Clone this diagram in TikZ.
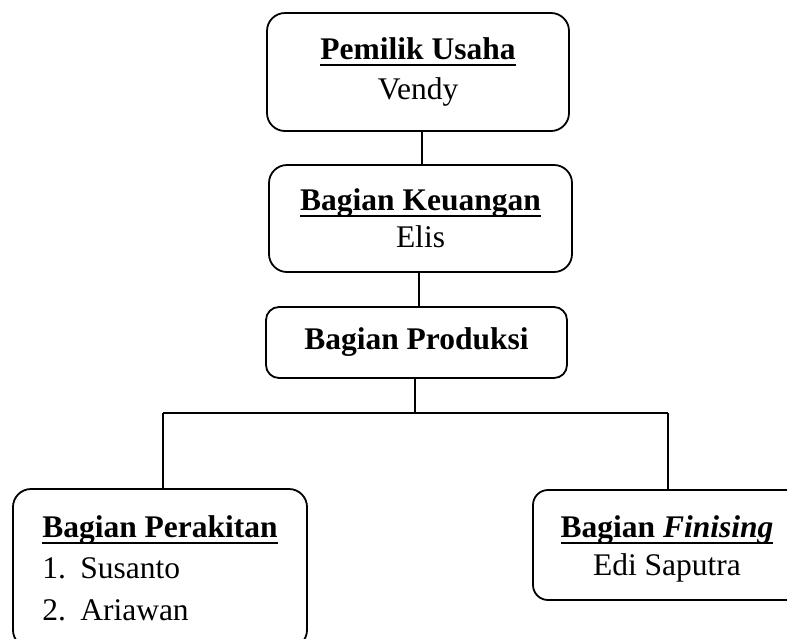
\documentclass[tikz,border=0pt]{standalone}
\usepackage{fontspec}
\setmainfont{Liberation Serif}
\newsavebox\ulbox
\newcommand\ulx[1]{\sbox\ulbox{#1}\rlap{\rule[-6.5pt]{\wd\ulbox}{2.4pt}}\usebox\ulbox}
\tikzset{
  orgbox/.style={draw, line width=1.8pt, rounded corners=18pt, inner sep=0pt,
    font=\fontsize{31.5}{40}\selectfont},
  orgtext/.style={inner sep=0pt, font=\fontsize{31.5}{40}\selectfont},
  link/.style={line width=1.8pt}
}
\begin{document}
\begin{tikzpicture}[x=1pt,y=-1pt]
\useasboundingbox (0,0) rectangle (787,638);
\clip (0,0) rectangle (787,638);
\node[orgbox, minimum width=302pt, minimum height=118pt, align=center] (b1) at (418,72)
  {\bfseries\ulx{Pemilik Usaha}\\Vendy};
\node[orgbox, minimum width=303pt, minimum height=107pt, align=center] (b2) at (420.5,218.5)
  {\bfseries\ulx{Bagian Keuangan}\\[-3pt]\mdseries Elis};
\node[orgbox, rounded corners=13pt, minimum width=301pt, minimum height=71pt] (b3) at (416.5,342.5)
  {\bfseries Bagian Produksi};
\node[orgbox, minimum width=294pt, minimum height=159pt, align=left] (b4) at (160,568.5)
  {\bfseries\ulx{Bagian Perakitan}\\[1pt]\makebox[38pt][l]{1.}Susanto\\[2pt]\makebox[38pt][l]{2.}Ariawan};
\node[orgbox, rounded corners=15pt, minimum width=268pt, minimum height=110pt] (b5) at (667,545) {};
\node[orgtext, align=center] (b5t) at (667,549) {\bfseries\ulx{Bagian \textit{Finising}}\\[-2pt]\mdseries Edi Saputra};
\coordinate (c12) at (422,0);
\coordinate (c23) at (419,0);
\coordinate (bus) at (415,413);
\coordinate (busL) at (163,413);
\coordinate (busR) at (668,413);
\draw[link] (c12 |- b1.south) -- (c12 |- b2.north);
\draw[link] (c23 |- b2.south) -- (c23 |- b3.north);
\draw[link] (bus |- b3.south) -- (bus);
\draw[link] (busL) -- (busR);
\draw[link] (busL) -- (busL |- b4.north);
\draw[link] (busR) -- (busR |- b5.north);
\end{tikzpicture}
\end{document}
